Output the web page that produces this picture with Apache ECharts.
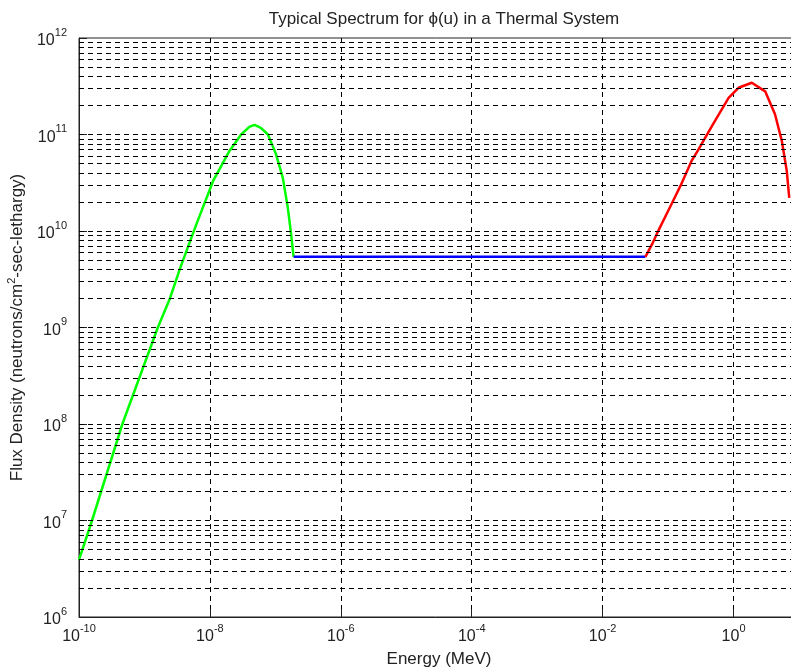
<!DOCTYPE html>
<html>
<head>
<meta charset="utf-8">
<script src="https://cdn.jsdelivr.net/npm/echarts@6/dist/echarts.min.js"></script>
<style>
    html, body { margin: 0; padding: 0; background: #fff; }
    #main { width: 791px; height: 670px; }
</style>
</head>
<body>
<div id="main"></div>
<script>
// thermal (maxwellian) part - green
var thermalEnergy = [1e-10, 1.58e-10, 4.6e-10, 1.6e-9, 2.45e-9, 3.5e-9, 6.2e-9, 1.12e-8, 2.0e-8, 3.0e-8,
    4.0e-8, 4.8e-8, 6.0e-8, 7.7e-8, 1.02e-7, 1.3e-7, 1.55e-7, 1.74e-7, 1.9e-7];
var thermalFlux = [3.9e6, 1e7, 1e8, 1e9, 2.0e9, 4.1e9, 1.17e10, 3.3e10, 6.8e10, 1.0e11,
    1.2e11, 1.26e11, 1.17e11, 1.0e11, 6.3e10, 3.55e10, 1.74e10, 9.3e9, 5.4e9];
// slowing down part - blue
var epiEnergy = [1.9e-7, 4.5e-2];
var epiFlux = [5.4e9, 5.4e9];
// fission part - red
var fastEnergy = [4.5e-2, 5.7e-2, 6.8e-2, 0.115, 0.155, 0.231, 0.292, 0.467, 0.84, 1.19,
    1.9, 3.04, 4.3, 5.46, 6.5, 7.1];
var fastFlux = [5.4e9, 7.3e9, 9.5e9, 1.95e10, 2.95e10, 5.4e10, 7.0e10, 1.22e11, 2.4e11, 3.05e11,
    3.44e11, 2.8e11, 1.62e11, 8.6e10, 4.2e10, 2.2e10];
// dashed grid lines in y (1..9 of every decade)
var yDecades = [6, 7, 8, 9, 10, 11];
var yMultipliers = [1, 2, 3, 4, 5, 6, 7, 8, 9];

var font = 'Liberation Sans, Arial, sans-serif';

function pairs(xs, ys) {
    return xs.map(function (x, i) { return [x, ys[i]]; });
}
function powLabel(val) {
    var e = Math.round(Math.log(val) / Math.LN10);
    return '{b|10}{s|' + e + '}';
}
var gridLines = [];
yDecades.forEach(function (d) {
    yMultipliers.forEach(function (m) {
        if (d === 6 && m === 1) return;
        gridLines.push({ yAxis: m * Math.pow(10, d) });
    });
});

var labelRich = {
    b: { fontSize: 16, fontFamily: font, color: '#222', lineHeight: 22, verticalAlign: 'bottom' },
    s: { fontSize: 11, fontFamily: font, color: '#222', lineHeight: 22, verticalAlign: 'top' }
};

var myChart = echarts.init(document.getElementById('main'));
var option = {
    animation: false,
    backgroundColor: '#fff',
    title: {
        text: 'Typical Spectrum for \u03d5(u) in a Thermal System',
        left: 439, top: 6, textAlign: 'center',
        textStyle: { fontSize: 17, fontWeight: 'normal', color: '#222', fontFamily: font }
    },
    grid: {
        left: 79, top: 38, right: -8, bottom: 53, outerBoundsMode: 'none', containLabel: false,
        show: true, borderColor: '#222', borderWidth: 1
    },
    xAxis: {
        type: 'log', logBase: 10, min: 1e-10, max: 10, interval: 2,
        name: 'Energy (MeV)', nameLocation: 'middle', nameGap: 34,
        nameTextStyle: { fontSize: 17, color: '#222', fontFamily: font },
        axisLine: { lineStyle: { color: '#222', width: 1 } },
        axisTick: { inside: true, length: 8, lineStyle: { color: '#222' } },
        axisLabel: { margin: 6, showMaxLabel: false, formatter: powLabel, rich: labelRich },
        splitLine: { show: true, lineStyle: { color: '#000', type: [5, 4], width: 1 } }
    },
    yAxis: {
        type: 'log', logBase: 10, min: 1e6, max: 1e12, interval: 1,
        name: 'Flux Density (neutrons/cm{s|2}-sec-lethargy)', nameLocation: 'middle', nameGap: 45,
        nameTextStyle: {
            fontSize: 17, color: '#222', fontFamily: font,
            rich: {
                s: { fontSize: 11, color: '#222', fontFamily: font, verticalAlign: 'top', lineHeight: 22 }
            }
        },
        axisLine: { lineStyle: { color: '#222', width: 1 } },
        axisTick: { inside: true, length: 8, lineStyle: { color: '#222' } },
        axisLabel: { margin: 12, formatter: powLabel, rich: labelRich },
        splitLine: { show: false }
    },
    series: [
        {
            name: 'grid', type: 'line', data: [], silent: true,
            markLine: {
                silent: true, symbol: 'none', label: { show: false },
                lineStyle: { color: '#000', type: [5, 4], width: 1 },
                data: gridLines
            }
        },
        {
            name: 'thermal', type: 'line', showSymbol: false, data: pairs(thermalEnergy, thermalFlux),
            lineStyle: { color: '#00ff00', width: 2.5 }, itemStyle: { color: '#00ff00' }
        },
        {
            name: 'epithermal', type: 'line', showSymbol: false, data: pairs(epiEnergy, epiFlux),
            lineStyle: { color: '#0000ff', width: 2.5 }, itemStyle: { color: '#0000ff' }
        },
        {
            name: 'fast', type: 'line', showSymbol: false, data: pairs(fastEnergy, fastFlux),
            lineStyle: { color: '#ff0000', width: 2.5 }, itemStyle: { color: '#ff0000' }
        }
    ]
};
myChart.setOption(option);
</script>
</body>
</html>
